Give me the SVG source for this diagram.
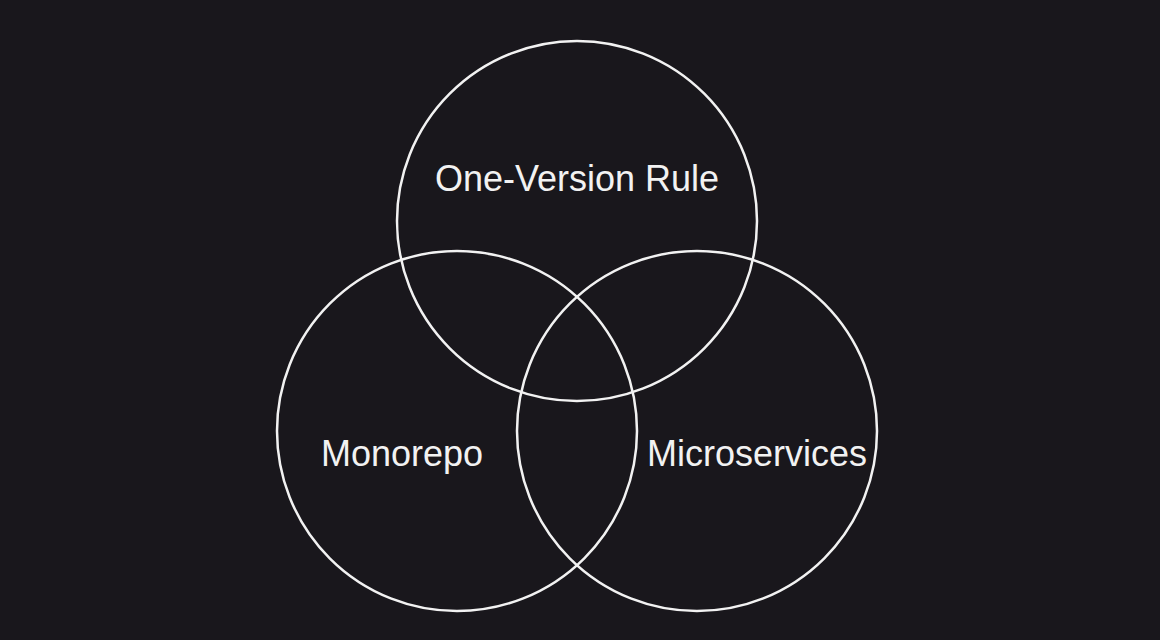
<svg xmlns="http://www.w3.org/2000/svg" width="1160" height="640" viewBox="0 0 1160 640">
<style>
.c{fill:none;stroke:#f2f2f2;stroke-width:2.5}
.t{font-family:"Liberation Sans",Arial,sans-serif;font-size:36px;fill:#f2f2f2;text-anchor:middle}
</style>
<rect width="1160" height="640" fill="#19171c"/>
<g id="one-version-rule"><circle class="c" cx="577" cy="221" r="180"/><text class="t" x="577" y="191">One-Version Rule</text></g>
<g id="monorepo"><circle class="c" cx="457" cy="431" r="180"/><text class="t" x="402" y="466">Monorepo</text></g>
<g id="microservices"><circle class="c" cx="697" cy="431" r="180"/><text class="t" x="757" y="466">Microservices</text></g>
<g id="connectors"/>
</svg>
